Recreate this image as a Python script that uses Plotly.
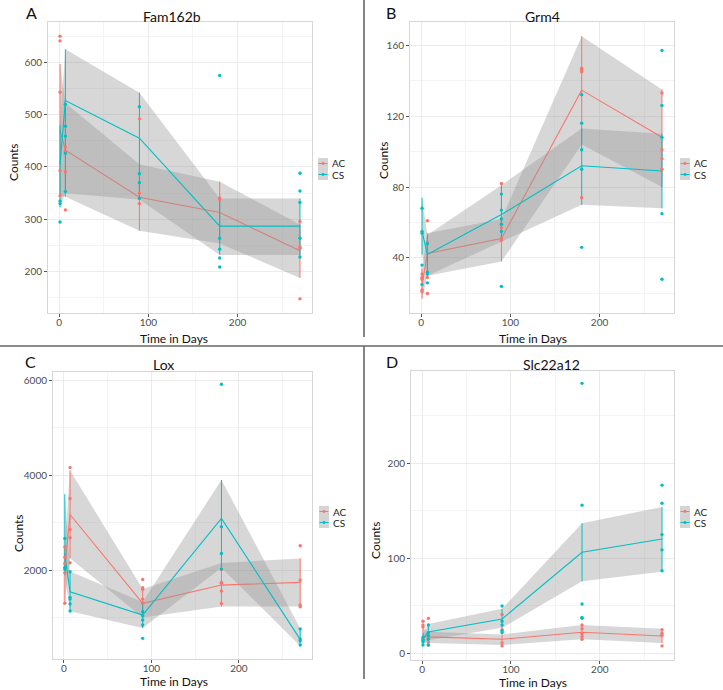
import plotly.graph_objects as go

W, H = 723, 690
TIME = [1, 7, 90, 180, 270]
COLORS = {"AC": "#F8766D", "CS": "#00BFC4"}
PANEL_TITLES = ["Fam162b", "Grm4", "Lox", "Slc22a12"]
PANEL_LETTERS = ["A", "B", "C", "D"]

# ---- Panel A: Fam162b ----
A_AC_MEAN = [470, 432, 342, 313, 240]
A_AC_LO = [345, 343, 278, 254, 188]
A_AC_HI = [597, 522, 405, 372, 290]
A_CS_MEAN = [405, 527, 455, 287, 287]
A_CS_LO = [323, 350, 338, 232, 232]
A_CS_HI = [480, 625, 542, 340, 340]
A_AC_PTS = [[650, 641, 543, 393, 345], [438, 430, 391, 318], [492, 350, 330], [341, 338], [296, 247, 244, 148]]
A_CS_PTS = [[335, 330, 295], [520, 478, 459, 426, 353], [515, 387, 370, 340], [575, 264, 243, 226, 209], [388, 354, 332, 264, 228]]

# ---- Panel B: Grm4 ----
B_AC_MEAN = [25, 42.5, 51, 134.6, 108]
B_AC_LO = [17, 30, 38, 104, 80]
B_AC_HI = [34, 54, 62, 165, 135]
B_CS_MEAN = [55, 42, 64.5, 92, 89]
B_CS_LO = [42, 30, 49, 70, 68]
B_CS_HI = [74, 53, 81, 113, 110]
B_AC_PTS = [[31, 29, 28, 22, 21], [61, 49, 29, 20], [82, 59, 57, 51, 50], [147, 146, 145, 74], [133, 101, 96, 90]]
B_CS_PTS = [[68, 55, 54, 36, 25], [48, 32, 31, 26], [76, 67, 62, 59, 55, 24], [132, 116, 101, 90, 46], [157, 126, 108, 65, 28]]

# ---- Panel C: Lox ----
C_AC_MEAN = [2030, 3172, 1298, 1684, 1740]
C_AC_LO = [1300, 2250, 1000, 1230, 1230]
C_AC_HI = [2520, 4100, 1600, 2150, 2245]
C_CS_MEAN = [2350, 1544, 1053, 3088, 540]
C_CS_LO = [1900, 1130, 780, 2050, 400]
C_CS_HI = [3600, 1970, 1330, 3900, 770]
C_AC_PTS = [[2490, 2270, 2140, 1944, 1300], [4160, 3510, 2856, 2681, 2154], [1804, 1628, 1593, 1389, 1300], [2014, 1740, 1720, 1558, 1298], [2512, 1789, 1263, 1228]]
C_CS_PTS = [[2667, 2056, 2021], [1965, 1424, 1389, 1284, 1137], [1123, 1040, 947, 842, 561], [5916, 2912, 2351, 2021], [758, 547, 512, 421]]

# ---- Panel D: Slc22a12 ----
D_AC_MEAN = [18, 17.5, 15, 22.3, 18.5]
D_AC_LO = [11, 11, 9, 15, 11]
D_AC_HI = [27, 23, 20, 30, 26]
D_CS_MEAN = [16, 22.7, 36.3, 106.5, 120.4]
D_CS_LO = [11, 14, 27, 76, 86]
D_CS_HI = [21, 31, 47, 137, 154]
D_AC_PTS = [[34, 30, 28, 15], [37, 16, 12, 9], [41, 25, 11, 8], [30, 26, 21, 18, 15], [25, 21, 19, 8]]
D_CS_PTS = [[17, 14, 12, 9], [30, 22, 19, 15, 9], [50, 34, 30, 24, 22], [284, 156, 52, 38, 37], [177, 158, 125, 109, 87]]

PANELS = [
    {"AC": (A_AC_MEAN, A_AC_LO, A_AC_HI, A_AC_PTS), "CS": (A_CS_MEAN, A_CS_LO, A_CS_HI, A_CS_PTS)},
    {"AC": (B_AC_MEAN, B_AC_LO, B_AC_HI, B_AC_PTS), "CS": (B_CS_MEAN, B_CS_LO, B_CS_HI, B_CS_PTS)},
    {"AC": (C_AC_MEAN, C_AC_LO, C_AC_HI, C_AC_PTS), "CS": (C_CS_MEAN, C_CS_LO, C_CS_HI, C_CS_PTS)},
    {"AC": (D_AC_MEAN, D_AC_LO, D_AC_HI, D_AC_PTS), "CS": (D_CS_MEAN, D_CS_LO, D_CS_HI, D_CS_PTS)},
]

# ---- layout geometry (pixels) ----
PLOT_BOX = [(48, 312, 22, 313), (410, 674, 22, 313), (53, 312, 372, 659), (411, 674, 371, 660)]
Y_RANGES = [(121, 677), (9, 173), (126, 6175), (-6.8, 297)]
Y_DTICK = [100, 40, 2000, 100]
X_RANGE = (-12.5, 283.5)
TITLE_POS = [(172, 16), (542, 16), (163, 364), (551, 364)]
LETTER_POS = [(31, 12), (391, 12), (30, 361), (392, 361)]
YTITLE_POS = [(14, 162), (383, 160), (18, 533), (375, 540)]
XTITLE_POS = [(174, 338), (533, 338), (174, 681), (533, 682)]
LEGEND_POS = [(318, 158), (680, 158), (319, 506), (680, 506)]

FONT = "Lato, 'Open Sans', sans-serif"
RIBBON = "rgba(150,150,150,0.38)"


def px(x):
    return x / W


def py(y):
    return 1 - y / H


fig = go.Figure()

for i, panel in enumerate(PANELS):
    sfx = "" if i == 0 else str(i + 1)
    xa, ya = "x" + sfx, "y" + sfx
    # ribbons + mean lines
    for g in ["AC", "CS"]:
        mean, lo, hi, pts = panel[g]
        fig.add_trace(go.Scatter(x=TIME + TIME[::-1], y=hi + lo[::-1], fill="toself",
                                 fillcolor=RIBBON, line=dict(width=0), mode="lines",
                                 hoverinfo="skip", showlegend=False, xaxis=xa, yaxis=ya))
        vx, vy = [], []
        for t, l, h in zip(TIME, lo, hi):
            vx += [t, t, None]
            vy += [l, h, None]
        fig.add_trace(go.Scatter(x=vx, y=vy, mode="lines", line=dict(color=COLORS[g], width=1),
                                 showlegend=False, xaxis=xa, yaxis=ya))
        fig.add_trace(go.Scatter(x=TIME, y=mean, mode="lines", line=dict(color=COLORS[g], width=1.1),
                                 showlegend=False, xaxis=xa, yaxis=ya))
    for g in ["AC", "CS"]:
        mean, lo, hi, pts = panel[g]
        xs = [t for t, vals in zip(TIME, pts) for _ in vals]
        ys = [v for vals in pts for v in vals]
        fig.add_trace(go.Scatter(x=xs, y=ys, mode="markers",
                                 marker=dict(color=COLORS[g], size=3.4, line=dict(width=0)),
                                 showlegend=False, xaxis=xa, yaxis=ya))

    x0, x1, y0, y1 = PLOT_BOX[i]
    common = dict(showline=True, mirror=True, linecolor="#d6d6d6", linewidth=1,
                  showgrid=True, gridcolor="#ebebeb", gridwidth=1, zeroline=False,
                  ticks="outside", ticklen=3, tickcolor="#555555",
                  tickfont=dict(family=FONT, size=10, color="#4d4d4d"))
    fig.update_layout(**{
        "xaxis" + sfx: dict(domain=[px(x0), px(x1)], range=list(X_RANGE), anchor=ya,
                            tick0=0, dtick=100, ticklabelstandoff=-3,
                            minor=dict(dtick=50, showgrid=True, gridcolor="#f4f4f4", ticks=""),
                            **common),
        "yaxis" + sfx: dict(domain=[py(y1), py(y0)], range=list(Y_RANGES[i]), anchor=xa,
                            tick0=0, dtick=Y_DTICK[i],
                            minor=dict(dtick=Y_DTICK[i] / 2, showgrid=True, gridcolor="#f4f4f4", ticks=""),
                            **common),
    })

annotations = []
shapes = []
for i in range(4):
    tx, ty = TITLE_POS[i]
    annotations.append(dict(x=px(tx), y=py(ty), xref="paper", yref="paper", text=PANEL_TITLES[i],
                            showarrow=False, font=dict(family=FONT, size=14, color="#111111"),
                            xanchor="center", yanchor="middle"))
    lx, ly = LETTER_POS[i]
    annotations.append(dict(x=px(lx), y=py(ly), xref="paper", yref="paper", text=PANEL_LETTERS[i],
                            showarrow=False, font=dict(family=FONT, size=16, color="#111111"),
                            xanchor="center", yanchor="middle"))
    cx, cy = YTITLE_POS[i]
    annotations.append(dict(x=px(cx), y=py(cy), xref="paper", yref="paper", text="Counts",
                            showarrow=False, textangle=-90, font=dict(family=FONT, size=12, color="#111111"),
                            xanchor="center", yanchor="middle"))
    cx, cy = XTITLE_POS[i]
    annotations.append(dict(x=px(cx), y=py(cy), xref="paper", yref="paper", text="Time in Days",
                            showarrow=False, font=dict(family=FONT, size=12, color="#111111"),
                            xanchor="center", yanchor="middle"))
    # legend
    lgx, lgy = LEGEND_POS[i]
    for k, g in enumerate(["AC", "CS"]):
        top = lgy + k * 11
        shapes.append(dict(type="rect", xref="paper", yref="paper", x0=px(lgx), x1=px(lgx + 10),
                           y0=py(top + 11), y1=py(top), fillcolor="#d4d4d4", line=dict(width=0)))
        cyk = top + 5.5
        shapes.append(dict(type="line", xref="paper", yref="paper", x0=px(lgx + 0.5), x1=px(lgx + 9.5),
                           y0=py(cyk), y1=py(cyk), line=dict(color=COLORS[g], width=1)))
        shapes.append(dict(type="circle", xref="paper", yref="paper", x0=px(lgx + 3.6), x1=px(lgx + 6.4),
                           y0=py(cyk + 1.4), y1=py(cyk - 1.4), fillcolor=COLORS[g], line=dict(width=0)))
        annotations.append(dict(x=px(lgx + 12), y=py(cyk), xref="paper", yref="paper", text=g,
                                showarrow=False, font=dict(family=FONT, size=10, color="#222222"),
                                xanchor="left", yanchor="middle"))

# panel dividers
DIV = dict(color="#666666", width=1.6)
shapes.append(dict(type="line", xref="paper", yref="paper", x0=px(364), x1=px(364), y0=py(0), y1=py(337), line=DIV))
shapes.append(dict(type="line", xref="paper", yref="paper", x0=0, x1=1, y0=py(346), y1=py(346), line=DIV))
shapes.append(dict(type="line", xref="paper", yref="paper", x0=px(364), x1=px(364), y0=py(346), y1=py(679), line=DIV))

fig.update_layout(width=W, height=H, margin=dict(l=0, r=0, t=0, b=0),
                  paper_bgcolor="white", plot_bgcolor="white",
                  annotations=annotations, shapes=shapes, showlegend=False,
                  font=dict(family=FONT))

fig.write_html("out.html", config={"displayModeBar": False},
               post_script="document.body.style.margin='0';document.body.style.overflow='hidden';")
